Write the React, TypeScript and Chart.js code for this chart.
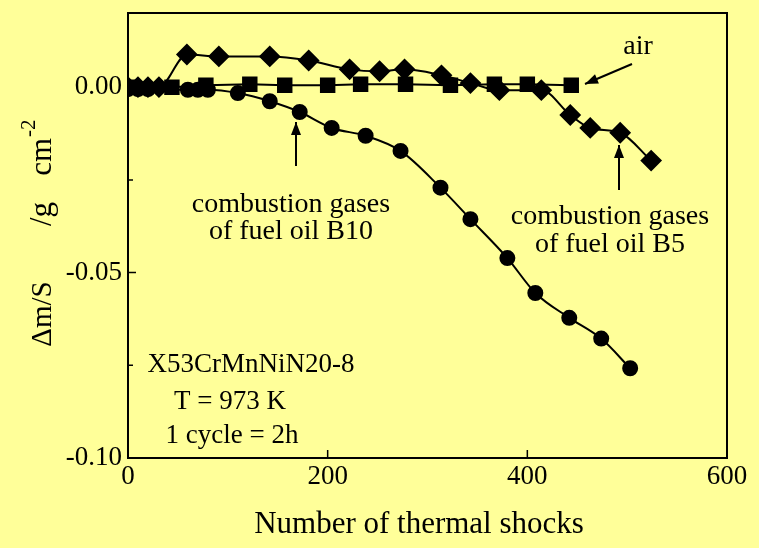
import React, { useEffect, useRef } from "react";
import { Chart, registerables } from "chart.js";

Chart.register(...registerables);

// Data
const b10Cycles = [0, 10, 20, 60, 70, 80, 110, 142, 172, 204, 238, 273, 313, 343, 380, 408, 442, 474, 503];
const b10Mass = [-0.0005, -0.0005, -0.0005, -0.0007, -0.0007, -0.0007, -0.0016, -0.0038, -0.0067, -0.011, -0.0131, -0.0172, -0.0271, -0.0356, -0.0461, -0.0555, -0.0622, -0.0678, -0.0758];

const b5Cycles = [0, 10, 20, 31, 59, 91, 142, 181, 222, 252, 277, 314, 343, 372, 414, 443, 463, 493, 524];
const b5Mass = [0, 0, 0, 0, 0.0088, 0.0083, 0.0083, 0.0072, 0.0048, 0.0043, 0.0048, 0.0032, 0.0011, -0.0008, -0.0008, -0.0075, -0.011, -0.0123, -0.0198];

const airCycles = [0, 44, 78, 122, 157, 200, 233, 278, 323, 367, 400, 444];
const airMass = [0, 0, 0.0005, 0.0008, 0.0005, 0.0005, 0.0008, 0.0008, 0.0005, 0.0008, 0.0008, 0.0005];

const xTickValues = [0, 200, 400, 600];
const yTickValues = [-0.1, -0.05, 0];
const yMinorTickValues = [-0.075, -0.025];

const xTitle = "Number of thermal shocks";
const yTitleMain = "\u0394m/S";
const yTitleUnitA = "/g";
const yTitleUnitB = "cm";
const yTitleExp = "-2";

const FONT = '"Liberation Serif", "Times New Roman", serif';
const BG = "#FFFF99";

function toPoints(xs: number[], ys: number[]) {
  return xs.map((x, i) => ({ x, y: ys[i] }));
}

export default function App() {
  const ref = useRef<HTMLCanvasElement | null>(null);

  useEffect(() => {
    document.body.style.margin = "0";
    const canvas = ref.current;
    if (!canvas) return;

    const overlay = {
      id: "overlay",
      beforeDraw(chart: any) {
        const ctx = chart.ctx;
        ctx.save();
        ctx.fillStyle = BG;
        ctx.fillRect(0, 0, chart.width, chart.height);
        ctx.restore();
      },
      afterDraw(chart: any) {
        const ctx = chart.ctx as CanvasRenderingContext2D;
        const a = chart.chartArea;
        const xs = chart.scales.x;
        const ys = chart.scales.y;
        ctx.save();
        ctx.strokeStyle = "#000";
        ctx.fillStyle = "#000";
        // frame
        ctx.lineWidth = 2;
        ctx.strokeRect(a.left, a.top, a.right - a.left, a.bottom - a.top);
        // inward ticks
        ctx.lineWidth = 1.5;
        ctx.beginPath();
        xTickValues.slice(1, -1).forEach((v) => {
          const px = xs.getPixelForValue(v);
          ctx.moveTo(px, a.bottom);
          ctx.lineTo(px, a.bottom - 8);
        });
        yTickValues.forEach((v) => {
          const py = ys.getPixelForValue(v);
          ctx.moveTo(a.left, py);
          ctx.lineTo(a.left + 8, py);
        });
        yMinorTickValues.forEach((v) => {
          const py = ys.getPixelForValue(v);
          ctx.moveTo(a.left, py);
          ctx.lineTo(a.left + 5, py);
        });
        ctx.stroke();

        // annotations
        ctx.font = `28px ${FONT}`;
        ctx.textAlign = "center";
        ctx.textBaseline = "middle";
        ctx.fillText("air", 638, 47);
        ctx.fillText("combustion gases", 291, 205);
        ctx.fillText("of fuel oil B10", 291, 232);
        ctx.fillText("combustion gases", 610, 217);
        ctx.fillText("of fuel oil B5", 610, 245);
        ctx.font = `27px ${FONT}`;
        ctx.fillText("X53CrMnNiN20-8", 251, 365);
        ctx.fillText("T = 973 K", 230, 402);
        ctx.fillText("1 cycle = 2h", 232, 436);

        // arrows
        const arrow = (x1: number, y1: number, x2: number, y2: number) => {
          ctx.lineWidth = 2;
          ctx.beginPath();
          ctx.moveTo(x1, y1);
          ctx.lineTo(x2, y2);
          ctx.stroke();
          const ang = Math.atan2(y2 - y1, x2 - x1);
          const L = 13, W = 5;
          ctx.beginPath();
          ctx.moveTo(x2, y2);
          ctx.lineTo(x2 - L * Math.cos(ang) + W * Math.sin(ang), y2 - L * Math.sin(ang) - W * Math.cos(ang));
          ctx.lineTo(x2 - L * Math.cos(ang) - W * Math.sin(ang), y2 - L * Math.sin(ang) + W * Math.cos(ang));
          ctx.closePath();
          ctx.fill();
        };
        arrow(632, 64, 585, 84);
        arrow(296, 166, 296, 122);
        arrow(619, 190, 619, 145);

        // x title
        ctx.font = `31px ${FONT}`;
        ctx.textAlign = "center";
        ctx.textBaseline = "middle";
        ctx.fillText(xTitle, 419, 525);

        // y title (rotated)
        ctx.font = `29px ${FONT}`;
        ctx.save();
        ctx.translate(43, 314);
        ctx.rotate(-Math.PI / 2);
        ctx.textAlign = "center";
        ctx.fillText(yTitleMain, 0, 0);
        ctx.restore();
        ctx.save();
        ctx.translate(43, 0);
        ctx.rotate(-Math.PI / 2);
        ctx.font = `31px ${FONT}`;
        ctx.textAlign = "left";
        ctx.fillText(yTitleUnitA, -226, 0);
        ctx.textAlign = "right";
        ctx.fillText(yTitleUnitB, -138, 0);
        ctx.font = `21px ${FONT}`;
        ctx.textAlign = "left";
        ctx.fillText(yTitleExp, -137, -14);
        ctx.restore();

        ctx.restore();
      },
    };

    const common = {
      showLine: true,
      borderColor: "#000",
      backgroundColor: "#000",
      pointBorderColor: "#000",
      pointBackgroundColor: "#000",
      borderWidth: 2,
    };

    const chart = new Chart(canvas, {
      type: "scatter",
      data: {
        datasets: [
          {
            ...common,
            label: "combustion gases of fuel oil B10",
            data: toPoints(b10Cycles, b10Mass),
            pointStyle: "circle",
            pointRadius: 7,
            cubicInterpolationMode: "monotone",
          },
          {
            ...common,
            label: "combustion gases of fuel oil B5",
            data: toPoints(b5Cycles, b5Mass),
            pointStyle: "rectRot",
            pointRadius: 9.5,
            cubicInterpolationMode: "monotone",
          },
          {
            ...common,
            label: "air",
            data: toPoints(airCycles, airMass),
            pointStyle: "rect",
            pointRadius: 9.5,
            tension: 0,
          },
        ],
      } as any,
      options: {
        animation: false,
        responsive: false,
        maintainAspectRatio: false,
        layout: { padding: { top: 13, right: 32, left: 0, bottom: 0 } },
        plugins: {
          legend: { display: false },
          tooltip: { enabled: false },
          title: { display: false },
        },
        scales: {
          x: {
            type: "linear",
            min: 0,
            max: 600,
            grid: { display: false, drawTicks: false },
            border: { display: false },
            afterBuildTicks: (s: any) => {
              s.ticks = xTickValues.map((v) => ({ value: v }));
            },
            afterFit: (s: any) => {
              s.height = 90;
              s.paddingLeft = 0;
              s.paddingRight = 0;
              s.paddingTop = 0;
              s.paddingBottom = 0;
            },
            ticks: {
              color: "#000",
              padding: 3,
              maxRotation: 0,
              font: { family: FONT, size: 27 },
              callback: (v: any) => String(v),
            },
          },
          y: {
            type: "linear",
            min: -0.1,
            max: 0.02,
            grid: { display: false, drawTicks: false },
            border: { display: false },
            afterBuildTicks: (s: any) => {
              s.ticks = yTickValues.map((v) => ({ value: v }));
            },
            afterFit: (s: any) => {
              s.width = 128;
              s.paddingLeft = 0;
              s.paddingRight = 0;
              s.paddingTop = 0;
              s.paddingBottom = 0;
            },
            ticks: {
              color: "#000",
              padding: 6,
              font: { family: FONT, size: 27 },
              callback: (v: any) => Number(v).toFixed(2),
            },
          },
        },
      } as any,
      plugins: [overlay],
    });

    return () => chart.destroy();
  }, []);

  return (
    <div style={{ width: 759, height: 548, background: BG }}>
      <canvas ref={ref} width={759} height={548} style={{ display: "block" }} />
    </div>
  );
}
